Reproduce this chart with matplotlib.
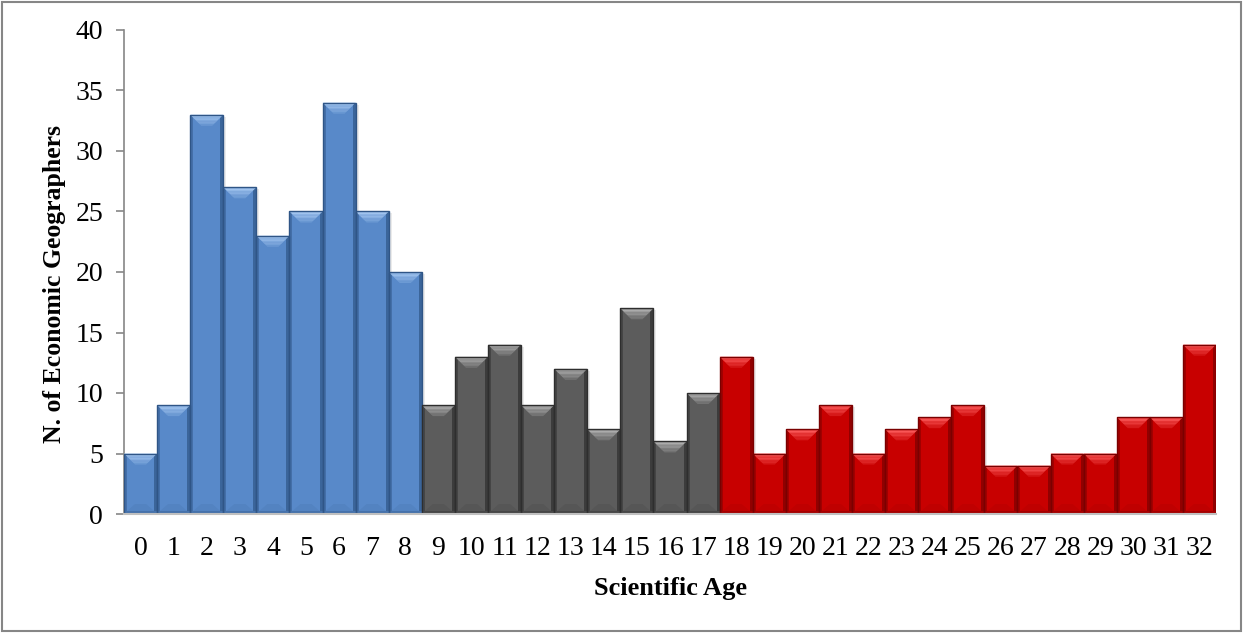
import numpy as np
import matplotlib
matplotlib.use("Agg")
import matplotlib.pyplot as plt
from matplotlib.patches import Polygon, Rectangle

# scientific age (years) and number of economic geographers
ages = list(range(33))
counts = [5, 9, 33, 27, 23, 25, 34, 25, 20,
          9, 13, 14, 9, 12, 7, 17, 6, 10,
          13, 5, 7, 9, 5, 7, 8, 9, 4, 4, 5, 5, 8, 8, 14]
groups = ["young"] * 9 + ["middle"] * 9 + ["senior"] * 15

# body, highlight, dark edge
palette = {
    "young": ("#5889c9", "#a8caf2", "#2f5586"),
    "middle": ("#5c5c5c", "#b4b4b4", "#2e2e2e"),
    "senior": ("#c80000", "#ff6060", "#7a0000"),
}

plt.rcParams["font.family"] = ["Liberation Serif", "DejaVu Serif"]

fig = plt.figure(figsize=(12.43, 6.33), dpi=100)
ax = fig.add_axes([124 / 1243, 1 - 514 / 633, 1092 / 1243, 484 / 633])

colors = [palette[g][0] for g in groups]
bars = ax.bar(ages, counts, width=1.0, color=colors, edgecolor="none", zorder=2)

ax.set_xlim(-0.5, 32.5)
ax.set_ylim(0, 40)

# pixel size in data units, for the bevel
px_x = 1.0 / (1092 / 33)
px_y = 40.0 / 484


def blend(c1, c2, t):
    a = np.array(matplotlib.colors.to_rgb(c1))
    b = np.array(matplotlib.colors.to_rgb(c2))
    return tuple(a * (1 - t) + b * t)


for b, g in zip(bars, groups):
    body, light, dark = palette[g]
    x0 = b.get_x()
    w = b.get_width()
    h = b.get_height()
    x1 = x0 + w
    # soft shadow on the right
    ax.add_patch(Rectangle((x1, 0), 3 * px_x, h - 2 * px_y,
                           color="#000000", alpha=0.08, lw=0, zorder=1))
    # darker side strips
    side = 3 * px_x
    ax.add_patch(Rectangle((x0, 0), side, h, color=blend(body, dark, 0.5), lw=0, zorder=3))
    ax.add_patch(Rectangle((x1 - side, 0), side, h, color=blend(body, dark, 0.7), lw=0, zorder=3))
    # bottom strip
    ax.add_patch(Rectangle((x0, 0), w, 3 * px_y, color=blend(body, dark, 0.45), lw=0, zorder=3))
    # bottom faint trapezoid
    bh = 7 * px_y
    ins = 11 * px_x
    ax.add_patch(Polygon([(x0 + side, 3 * px_y), (x1 - side, 3 * px_y),
                          (x1 - ins, 3 * px_y + bh), (x0 + ins, 3 * px_y + bh)],
                         closed=True, color=blend(body, dark, 0.12), lw=0, zorder=3))
    # top highlight trapezoid, graded in steps
    th = 11 * px_y
    steps = 8
    for i in range(steps):
        t0 = i / steps
        t1 = (i + 1) / steps
        ya = h - t0 * th
        yb = h - t1 * th
        xa0 = x0 + t0 * ins
        xa1 = x1 - t0 * ins
        xb0 = x0 + t1 * ins
        xb1 = x1 - t1 * ins
        c = blend(light, body, t0 * 0.85)
        ax.add_patch(Polygon([(xa0, ya), (xa1, ya), (xb1, yb), (xb0, yb)],
                             closed=True, color=c, lw=0, zorder=4))
    # outline
    ax.add_patch(Rectangle((x0, 0), w, h, fill=False, edgecolor=dark, lw=1.0, zorder=5))

for s in ["top", "right"]:
    ax.spines[s].set_visible(False)
ax.spines["left"].set_color("#868686")
ax.spines["left"].set_linewidth(1.2)
ax.spines["bottom"].set_color("#c0c0c0")
ax.spines["bottom"].set_linewidth(1.5)
ax.spines["bottom"].set_zorder(6)

ax.set_yticks(range(0, 41, 5))
ax.set_xticks(ages)
ax.set_xticklabels([str(a) for a in ages])
ax.tick_params(axis="y", direction="out", length=6, width=1.2, color="#868686",
               labelsize=20, pad=9)
ax.tick_params(axis="x", length=0, labelsize=20, pad=16)

ax.set_xlabel("Scientific Age", fontsize=19, fontweight="bold")
ax.set_ylabel("N. of Economic Geographers", fontsize=18.5, fontweight="bold")
ax.xaxis.set_label_coords(0.5, -0.131)
ax.yaxis.set_label_coords(-0.053, 0.475)

# outer frame of the chart area
fig.patches.append(Rectangle((2 / 1243, 2 / 633), 1 - 4 / 1243, 1 - 4 / 633,
                             transform=fig.transFigure, fill=False,
                             edgecolor="#868686", lw=1.5))

fig.savefig("out.png", dpi=100)
